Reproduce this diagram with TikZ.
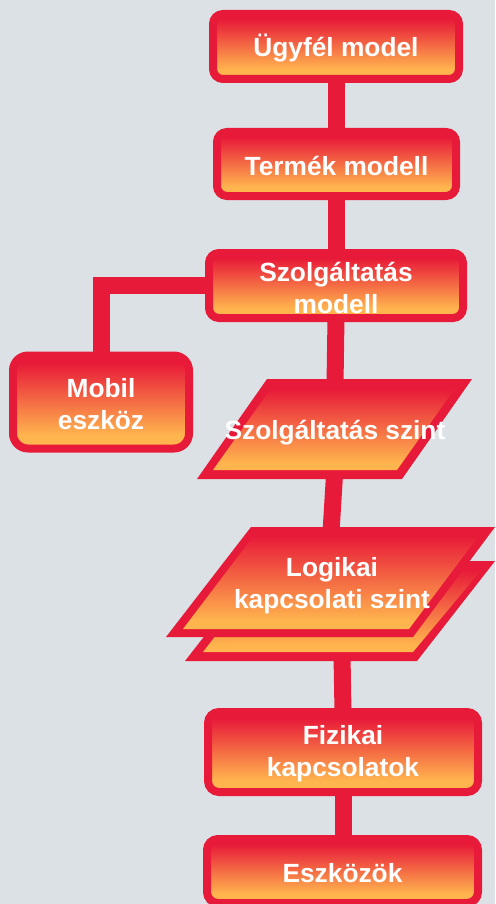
\documentclass[tikz,border=0pt]{standalone}
\usepackage{fontspec}
\setmainfont{Liberation Sans}
\usetikzlibrary{calc}
\definecolor{bgc}{HTML}{DCE1E5}
\definecolor{redc}{HTML}{E81A39}
\definecolor{orc}{HTML}{FFB54E}
\pgfdeclarelayer{bgl}
\pgfdeclarelayer{conn}
\pgfsetlayers{bgl,conn,main}
\pgfdeclareverticalshading{boxgrad}{100bp}{color(0bp)=(orc); color(32bp)=(orc); color(71bp)=(redc); color(100bp)=(redc)}
\pgfdeclareverticalshading{paragrad}{100bp}{color(0bp)=(orc); color(29bp)=(orc); color(74bp)=(redc); color(100bp)=(redc)}
\tikzset{
 box/.style={draw=redc,line width=8pt,shading=boxgrad,rounded corners=10pt,inner sep=0pt,outer sep=0pt},
 lab/.style={text=white,font=\fontsize{26.3}{32}\selectfont\bfseries,align=center,inner sep=0pt},
 conline/.style={draw=redc,line width=17pt},
 pouter/.style={fill=redc},
 pinner/.style={shading=paragrad}
}
\begin{document}
\begin{tikzpicture}[x=1pt,y=-1pt]
\useasboundingbox (0,0) rectangle (495,904);
\begin{pgfonlayer}{bgl}
\fill[bgc] (0,0) rectangle (495,904);
\end{pgfonlayer}
\node[box,minimum width=246pt,minimum height=65pt] (ugyfel) at (336,46.5) {};
\node[lab] (tugyfel) at (336,48.5) {Ügyfél model};
\node[box,minimum width=239pt,minimum height=64pt] (termek) at (336.5,164) {};
\node[lab] (ttermek) at (336.5,166) {Termék modell};
\node[box,minimum width=254pt,minimum height=65pt] (szm) at (336,285.5) {};
\node[lab] (tszm) at (336,287.5) {Szolgáltatás\\modell};
\node[box,minimum width=176pt,minimum height=93pt,rounded corners=15pt] (mobil) at (101,402) {};
\node[lab] (tmobil) at (101,404) {Mobil\\eszköz};
% parallelogram 1
\fill[pouter] (267,379) -- (472,379) -- (402,479) -- (197,479) -- cycle;
\shade[pinner] (272,387) -- (456,387) -- (397,470) -- (213,470) -- cycle;
\node[lab] (szsz) at (335,433) {Szolgáltatás szint};
\coordinate (p1t) at (335,385);
\coordinate (p1b) at (334.5,475);
% parallelogram 2 (back and front)
\fill[pouter] (263,561) -- (495,561) -- (417,661) -- (185,661) -- cycle;
\shade[pinner] (268,568) -- (483,568) -- (413,652) -- (203,652) -- cycle;
\fill[pouter] (251,527) -- (495,527) -- (413,637) -- (166,637) -- cycle;
\shade[pinner] (255,534) -- (480,534) -- (409,629) -- (183,629) -- cycle;
\node[lab] (log) at (332,586) {Logikai\\kapcsolati szint};
\coordinate (p2t) at (331,532);
\coordinate (p2b) at (342,655);
\node[box,minimum width=270pt,minimum height=80pt,rounded corners=11pt] (fiz) at (343,752) {};
\node[lab] (tfiz) at (343,754) {Fizikai\\kapcsolatok};
\node[box,minimum width=271pt,minimum height=64pt,rounded corners=11pt] (esz) at (342.5,871) {};
\node[lab] (tesz) at (342.5,873) {Eszközök};
\begin{pgfonlayer}{conn}
\draw[conline] (ugyfel.south -| 336,0) -- (termek.north -| 336,0);
\draw[conline] (termek.south -| 336,0) -- (szm.north -| 336,0);
\draw[conline] (szm.south -| 336,0) -- (p1t);
\draw[conline] (p1b) -- (p2t);
\draw[conline] (p2b) -- (fiz.north -| 343,0);
\draw[conline] (fiz.south -| 343,0) -- (esz.north -| 343,0);
\draw[conline] (szm.west) -- (mobil.north |- szm.west) -- (mobil.north);
\end{pgfonlayer}
\end{tikzpicture}
\end{document}
